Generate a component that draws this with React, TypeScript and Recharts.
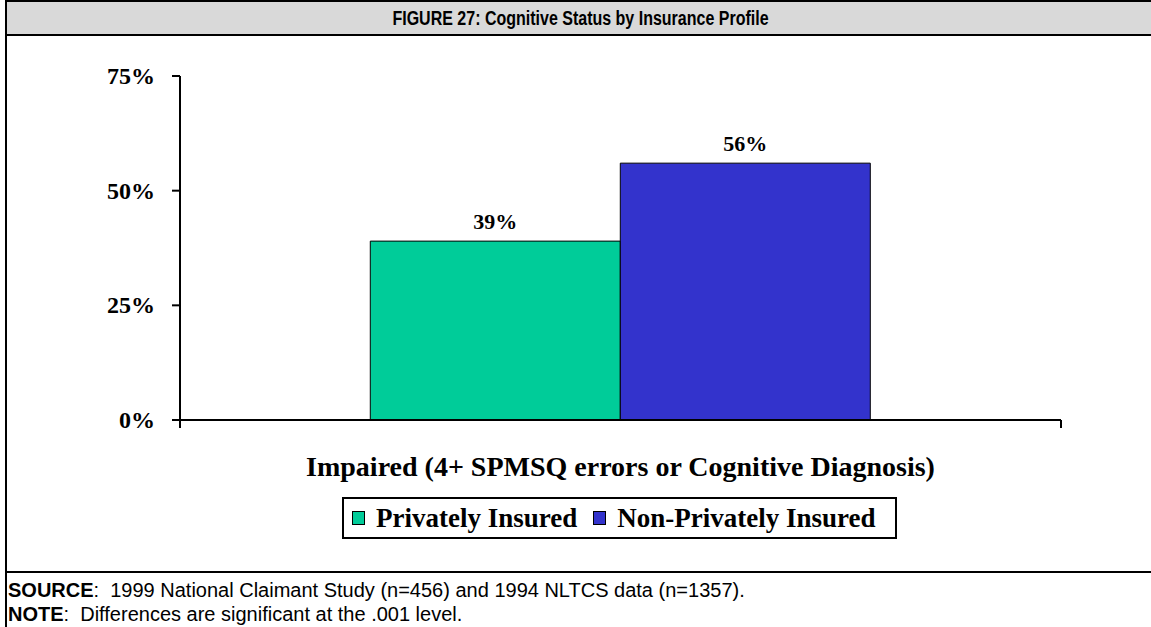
import React from 'react'
import { BarChart, Bar, XAxis, YAxis, Legend, LabelList } from 'recharts'

const categories = ['Impaired (4+ SPMSQ errors or Cognitive Diagnosis)']
const privatelyInsured = [39]
const nonPrivatelyInsured = [56]
const yTicks = [0, 25, 50, 75]
const seriesNames = ['Privately Insured', 'Non-Privately Insured']
const seriesColors = ['#00cc99', '#3333cc']

const data = categories.map((c, i) => ({
  category: c,
  priv: privatelyInsured[i],
  nonpriv: nonPrivatelyInsured[i],
}))

const serif = '"Liberation Serif", "Times New Roman", serif'
const sans = '"Liberation Sans", Arial, sans-serif'

const XTick = (props: any) => {
  const { x, y, payload } = props
  const half = payload && payload.offset ? payload.offset : 0
  return (
    <g>
      <line x1={x - half} y1={y} x2={x - half} y2={y + 8} stroke="#000" strokeWidth={2} />
      <line x1={x + half} y1={y} x2={x + half} y2={y + 8} stroke="#000" strokeWidth={2} />
      <text x={x} y={y + 56} textAnchor="middle" fontFamily={serif} fontWeight="bold" fontSize={28} fill="#000">
        {payload.value}
      </text>
    </g>
  )
}

const YTick = (props: any) => {
  const { x, y, payload } = props
  return (
    <text x={x} y={y + 8} textAnchor="end" fontFamily={serif} fontWeight="bold" fontSize={24} fill="#000">
      {payload.value}%
    </text>
  )
}

const LegendBox = () => (
  <div
    style={{
      border: '2px solid #000',
      height: 38,
      display: 'flex',
      alignItems: 'center',
      justifyContent: 'flex-start',
      paddingLeft: 8,
      fontFamily: serif,
      fontWeight: 'bold',
      fontSize: 27,
      boxSizing: 'content-box',
      whiteSpace: 'nowrap',
    }}
  >
    {seriesNames.map((n, i) => (
      <span key={n} style={{ display: 'flex', alignItems: 'center', marginRight: i === 0 ? 16 : 0 }}>
        <span
          style={{
            width: 11,
            height: 12,
            background: seriesColors[i],
            border: '1px solid #000',
            marginRight: 11,
            display: 'inline-block',
          }}
        />
        {n}
      </span>
    ))}
  </div>
)

export default function App() {
  return (
    <div style={{ position: 'absolute', left: 0, top: 0, width: 1151, height: 627, background: '#fff', overflow: 'hidden' }}>
      <div
        style={{
          position: 'absolute',
          left: 5,
          top: 0,
          width: 1160,
          height: 571,
          borderLeft: '2px solid #000',
          borderTop: '2px solid #000',
        }}
      />
      <div
        style={{
          position: 'absolute',
          left: 7,
          top: 2,
          width: 1150,
          height: 32,
          background: '#d9d9d9',
          borderBottom: '2px solid #000',
        }}
      />
      <div
        style={{
          position: 'absolute',
          left: 5,
          top: 2,
          width: 1151,
          height: 32,
          lineHeight: '32px',
          textAlign: 'center',
          fontFamily: sans,
          fontWeight: 'bold',
          fontSize: 20,
          color: '#000',
          transform: 'scaleX(0.8)',
        }}
      >
        FIGURE 27: Cognitive Status by Insurance Profile
      </div>
      <div style={{ position: 'absolute', left: 5, top: 571, width: 1160, height: 57, borderLeft: '2px solid #000', borderTop: '2px solid #000' }} />
      <div style={{ position: 'absolute', left: 8, top: 579, fontFamily: sans, fontSize: 20, color: '#000', lineHeight: '22px', whiteSpace: 'pre' }}>
        <b>SOURCE</b>{':  1999 National Claimant Study (n=456) and 1994 NLTCS data (n=1357).'}
      </div>
      <div style={{ position: 'absolute', left: 8, top: 603, fontFamily: sans, fontSize: 20, color: '#000', lineHeight: '22px', whiteSpace: 'pre' }}>
        <b>NOTE</b>{':  Differences are significant at the .001 level.'}
      </div>
      <div style={{ position: 'absolute', left: 0, top: 0 }}>
        <BarChart
          width={1151}
          height={560}
          data={data}
          margin={{ top: 76, right: 90, left: 110, bottom: 80 }}
          barCategoryGap="21.6%"
          barGap={0}
        >
          <XAxis
            dataKey="category"
            height={60}
            tickSize={0}
            tickMargin={0}
            tick={<XTick />}
            axisLine={{ stroke: '#000', strokeWidth: 2 }}
            tickLine={false}
          />
          <YAxis
            width={70}
            domain={[0, 75]}
            ticks={yTicks}
            tickSize={8}
            tickMargin={17}
            tick={<YTick />}
            axisLine={{ stroke: '#000', strokeWidth: 2 }}
            tickLine={{ stroke: '#000', strokeWidth: 2 }}
          />
          <Legend
            verticalAlign="middle"
            align="center"
            layout="horizontal"
            content={<LegendBox />}
            wrapperStyle={{ left: 342, top: 497, width: 555, height: 42 }}
          />
          <Bar dataKey="priv" name={seriesNames[0]} fill={seriesColors[0]} stroke="#000" strokeWidth={1} isAnimationActive={false}>
            <LabelList
              dataKey="priv"
              position="top"
              offset={12}
              formatter={(v: any) => `${v}%`}
              style={{ fontFamily: serif, fontWeight: 'bold', fontSize: 22, fill: '#000' }}
            />
          </Bar>
          <Bar dataKey="nonpriv" name={seriesNames[1]} fill={seriesColors[1]} stroke="#000" strokeWidth={1} isAnimationActive={false}>
            <LabelList
              dataKey="nonpriv"
              position="top"
              offset={12}
              formatter={(v: any) => `${v}%`}
              style={{ fontFamily: serif, fontWeight: 'bold', fontSize: 22, fill: '#000' }}
            />
          </Bar>
        </BarChart>
      </div>
    </div>
  )
}
